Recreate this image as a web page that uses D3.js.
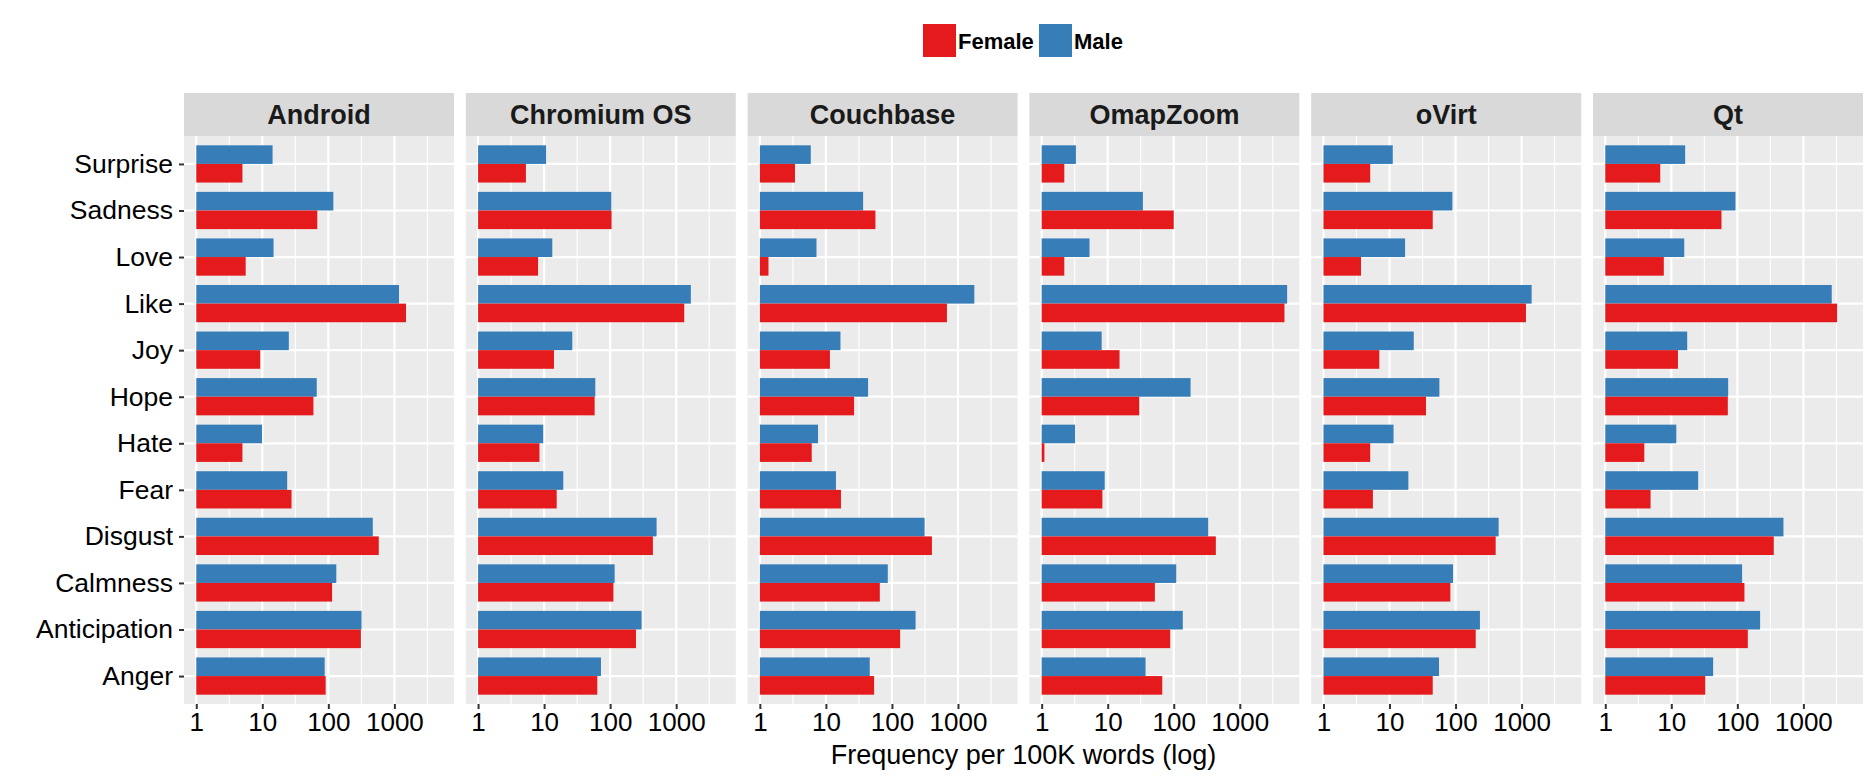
<!DOCTYPE html>
<html>
<head>
<meta charset="utf-8">
<script src="https://cdn.jsdelivr.net/npm/d3@7"></script>
<style>
  html, body { margin: 0; padding: 0; background: #fff; }
  svg { display: block; font-family: "Liberation Sans", Arial, Helvetica, sans-serif; }
</style>
</head>
<body>
<svg id="chart" width="1875" height="782"></svg>
<script>
// ---- data ----
const projects = ["Android", "Chromium OS", "Couchbase", "OmapZoom", "oVirt", "Qt"];
const emotions = ["Surprise", "Sadness", "Love", "Like", "Joy", "Hope", "Hate", "Fear", "Disgust", "Calmness", "Anticipation", "Anger"];
const genders = ["Female", "Male"];
const xTicks = [1, 10, 100, 1000];
const xMinor = [3.1623, 31.623, 316.23, 3162.3];

// values per project, in emotion order
const maleAndroid = [14.3, 119, 14.8, 1175, 25.2, 66.7, 9.9, 23.8, 471, 132, 318, 88];
const femaleAndroid = [5.0, 68, 5.6, 1500, 9.3, 59.4, 5.0, 27.7, 580, 114, 311, 91];
const maleChromium = [10.7, 104, 13.3, 1668, 26.7, 59.6, 9.7, 19.5, 505, 117, 299, 72.6];
const femaleChromium = [5.3, 105, 8.1, 1324, 14.1, 58.2, 8.5, 15.5, 444, 112, 246, 63.9];
const maleCouchbase = [5.9, 36.6, 7.2, 1767, 16.6, 43.5, 7.6, 14.2, 312, 86.5, 228, 46.1];
const femaleCouchbase = [3.4, 56.2, 1.35, 680, 11.5, 26.7, 6.1, 16.9, 403, 65.5, 133, 53.7];
const maleOmapZoom = [3.3, 34.1, 5.3, 5210, 8.1, 179.6, 3.2, 9.0, 332, 109, 137, 37.4];
const femaleOmapZoom = [2.2, 100, 2.2, 4745, 15.1, 30, 1.1, 8.3, 434, 51.8, 88.4, 67];
const maleOVirt = [11.2, 89.5, 17.2, 1419, 23.3, 56.9, 11.5, 19.3, 449, 91.5, 234, 56.2];
const femaleOVirt = [5.1, 45.1, 3.7, 1165, 7.0, 35.7, 5.1, 5.6, 405, 83.4, 202, 45.1];
const maleQt = [16.2, 93.7, 15.7, 2686, 17.4, 72.6, 11.9, 25.5, 499, 118, 221, 43];
const femaleQt = [6.8, 57.5, 7.7, 3236, 12.6, 71.7, 3.9, 4.85, 356, 128, 144, 32.6];

const female = [femaleAndroid, femaleChromium, femaleCouchbase, femaleOmapZoom, femaleOVirt, femaleQt];
const male = [maleAndroid, maleChromium, maleCouchbase, maleOmapZoom, maleOVirt, maleQt];

// ---- layout ----
const colors = { Female: "#E41A1C", Male: "#377EB8" };
const panelLeft = 184, panelW = 270, panelStep = 281.8;
const panelTop = 136, panelH = 568;
const stripTop = 93, stripH = 43;

const svg = d3.select("#chart");

const allVals = female.flat().concat(male.flat());
const hi = Math.log10(d3.max(allVals));
const x = d3.scaleLog()
  .domain([Math.pow(10, -0.05 * hi), Math.pow(10, 1.05 * hi)])
  .range([0, panelW]);

const y = d3.scalePoint()
  .domain(emotions)
  .range([0, panelH])
  .padding(0.6);
const step = y.step();
const barH = 0.4 * step;

projects.forEach((p, pi) => {
  const g = svg.append("g")
    .attr("transform", `translate(${panelLeft + pi * panelStep},${panelTop})`);

  // background
  g.append("rect").attr("width", panelW).attr("height", panelH).attr("fill", "#EBEBEB");

  // minor grid
  g.selectAll(".minor").data(xMinor).enter().append("line")
    .attr("x1", d => x(d)).attr("x2", d => x(d))
    .attr("y1", 0).attr("y2", panelH)
    .attr("stroke", "#fff").attr("stroke-width", 1.1);

  // major grid
  g.selectAll(".majorx").data(xTicks).enter().append("line")
    .attr("x1", d => x(d)).attr("x2", d => x(d))
    .attr("y1", 0).attr("y2", panelH)
    .attr("stroke", "#fff").attr("stroke-width", 2.2);
  g.selectAll(".majory").data(emotions).enter().append("line")
    .attr("x1", 0).attr("x2", panelW)
    .attr("y1", d => y(d)).attr("y2", d => y(d))
    .attr("stroke", "#fff").attr("stroke-width", 2.2);

  // bars
  const rows = emotions.map((e, i) => ({ e, f: female[pi][i], m: male[pi][i] }));
  g.selectAll(".bm").data(rows).enter().append("rect")
    .attr("x", x(1))
    .attr("y", d => y(d.e) - barH)
    .attr("width", d => x(d.m) - x(1))
    .attr("height", barH)
    .attr("fill", colors.Male);
  g.selectAll(".bf").data(rows).enter().append("rect")
    .attr("x", x(1))
    .attr("y", d => y(d.e))
    .attr("width", d => x(d.f) - x(1))
    .attr("height", barH)
    .attr("fill", colors.Female);

  // strip
  const sg = svg.append("g")
    .attr("transform", `translate(${panelLeft + pi * panelStep},${stripTop})`);
  sg.append("rect").attr("width", panelW).attr("height", stripH).attr("fill", "#D9D9D9");
  sg.append("text")
    .attr("x", panelW / 2).attr("y", stripH / 2)
    .attr("text-anchor", "middle").attr("dominant-baseline", "central")
    .attr("font-size", 27).attr("font-weight", "bold").attr("fill", "#1a1a1a")
    .text(p);

  // x axis
  const ax = svg.append("g")
    .attr("transform", `translate(${panelLeft + pi * panelStep},${panelTop + panelH})`)
    .call(d3.axisBottom(x).tickValues(xTicks).tickFormat(d3.format("d")).tickSize(5).tickPadding(4));
  ax.select(".domain").remove();
  ax.selectAll(".tick line").attr("stroke", "#333").attr("stroke-width", 2);
  ax.selectAll(".tick text").attr("font-size", 26).attr("fill", "#000")
    .attr("font-family", "'Liberation Sans', Arial, sans-serif");
});

// y axis
const ay = svg.append("g")
  .attr("transform", `translate(${panelLeft},${panelTop})`)
  .call(d3.axisLeft(y).tickSize(5).tickPadding(6));
ay.select(".domain").remove();
ay.selectAll(".tick line").attr("stroke", "#333").attr("stroke-width", 2);
ay.selectAll(".tick text").attr("font-size", 26.5).attr("fill", "#000")
  .attr("font-family", "'Liberation Sans', Arial, sans-serif");

// x axis title
const plotCenter = panelLeft + (5 * panelStep + panelW) / 2;
svg.append("text")
  .attr("x", plotCenter).attr("y", 764)
  .attr("text-anchor", "middle")
  .attr("font-size", 27).attr("fill", "#000")
  .text("Frequency per 100K words (log)");

// legend
const legend = svg.append("g");
const legendItems = [
  { g: "Female", kx: 923, tx: 958 },
  { g: "Male", kx: 1039, tx: 1074 }
];
legendItems.forEach(it => {
  legend.append("rect").attr("x", it.kx).attr("y", 24).attr("width", 33).attr("height", 33)
    .attr("fill", colors[it.g]);
  legend.append("text").attr("x", it.tx).attr("y", 48.5)
    .attr("font-size", 22).attr("font-weight", "bold").attr("fill", "#000")
    .text(it.g);
});
</script>
</body>
</html>
